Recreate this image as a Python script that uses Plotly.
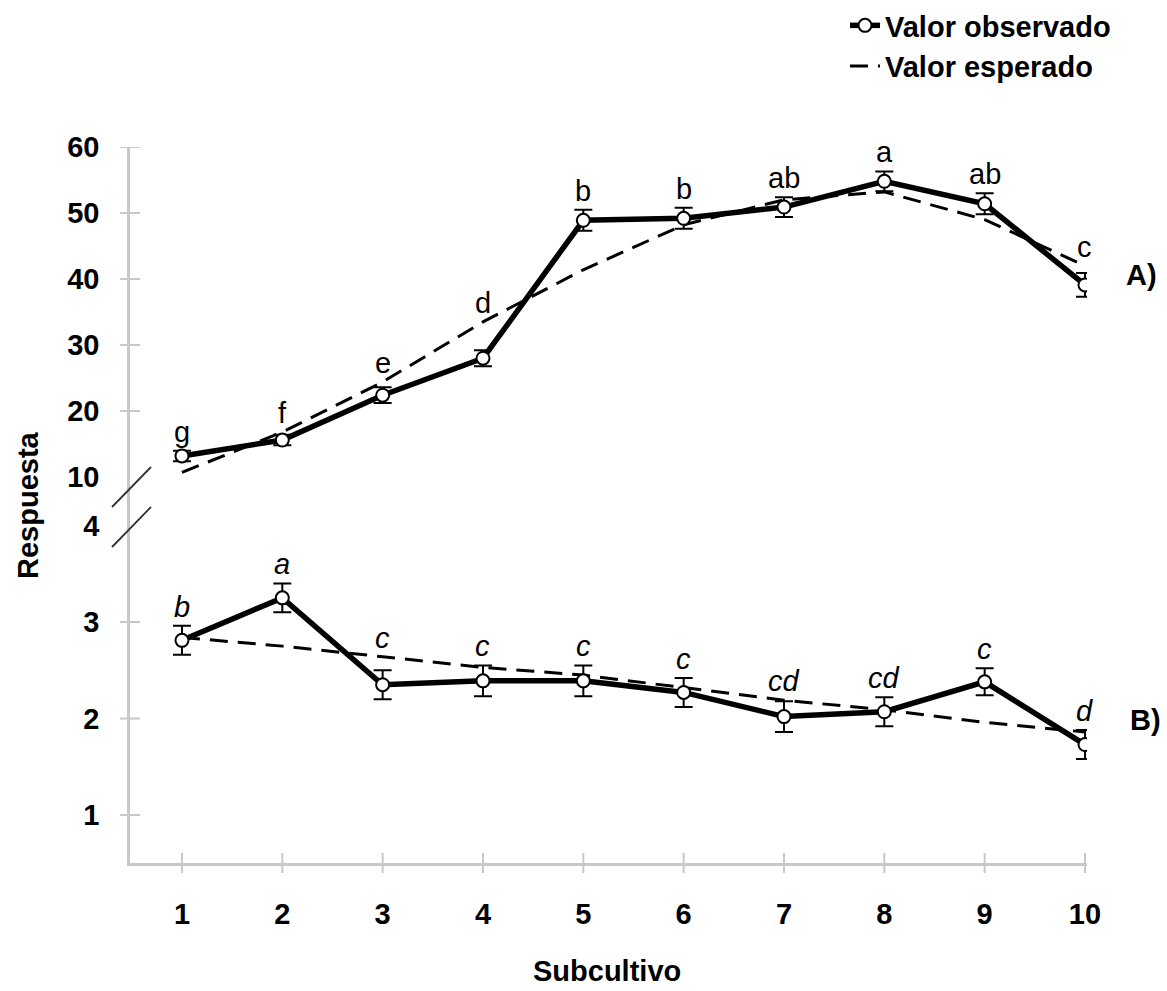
import plotly.graph_objects as go

# ---------------- data ----------------
subcultivo = [1, 2, 3, 4, 5, 6, 7, 8, 9, 10]

obs_A = [13.2, 15.6, 22.4, 28.0, 48.9, 49.2, 50.9, 54.8, 51.4, 39.1]
err_A = [0.8, 0.8, 1.2, 1.2, 1.6, 1.6, 1.5, 1.5, 1.6, 1.8]
exp_A = [10.7, 16.8, 24.4, 33.5, 41.4, 48.2, 52.0, 53.2, 49.0, 42.0]
let_A = ["g", "f", "e", "d", "b", "b", "ab", "a", "ab", "c"]

obs_B = [2.81, 3.25, 2.35, 2.39, 2.39, 2.27, 2.02, 2.07, 2.38, 1.73]
err_B = [0.15, 0.15, 0.15, 0.16, 0.16, 0.15, 0.16, 0.15, 0.14, 0.15]
exp_B = [2.84, 2.75, 2.64, 2.53, 2.45, 2.32, 2.19, 2.09, 1.96, 1.86]
let_B = ["b", "a", "c", "c", "c", "c", "cd", "cd", "c", "d"]

x_ticks = [1, 2, 3, 4, 5, 6, 7, 8, 9, 10]
yA_ticks = [10, 20, 30, 40, 50, 60]
yB_ticks = [1, 2, 3, 4]
break_A, break_B = 10, 4

# ---------------- layout geometry (pixels) ----------------
W, H = 1167, 991
def px_x(p): return p / W
def px_y(p): return 1 - p / H

AX_LEFT, AX_RIGHT = 130, 1087
AX_BOTTOM, AX_SPLIT, AX_TOP = 863, 500, 147
FONT = "Liberation Sans, Arial, sans-serif"
GRAY = "#c8c8c8"
DASH = "18px,10px"

fig = go.Figure()

# panel A
fig.add_trace(go.Scatter(x=subcultivo, y=exp_A, xaxis="x", yaxis="y2", mode="lines",
                         name="Valor esperado", legendrank=2,
                         line=dict(color="black", width=3, dash=DASH)))
fig.add_trace(go.Scatter(x=subcultivo, y=obs_A, xaxis="x", yaxis="y2", mode="lines+markers",
                         name="Valor observado", legendrank=1,
                         line=dict(color="black", width=5.5),
                         marker=dict(size=13, color="white", line=dict(color="black", width=2)),
                         error_y=dict(type="data", array=err_A, color="black", thickness=2, width=9)))
# panel B
fig.add_trace(go.Scatter(x=subcultivo, y=exp_B, xaxis="x", yaxis="y", mode="lines",
                         showlegend=False,
                         line=dict(color="black", width=3, dash=DASH)))
fig.add_trace(go.Scatter(x=subcultivo, y=obs_B, xaxis="x", yaxis="y", mode="lines+markers",
                         showlegend=False,
                         line=dict(color="black", width=5.5),
                         marker=dict(size=13, color="white", line=dict(color="black", width=2)),
                         error_y=dict(type="data", array=err_B, color="black", thickness=2, width=9)))

annotations = []
for xi, o, e, er, t in zip(subcultivo, obs_A, exp_A, err_A, let_A):
    annotations.append(dict(x=xi, y=max(o + er, e), xref="x", yref="y2", text=t,
                            showarrow=False, xanchor="center", yanchor="bottom", yshift=1,
                            font=dict(family=FONT, size=29, color="black")))
for xi, o, e, er, t in zip(subcultivo, obs_B, exp_B, err_B, let_B):
    annotations.append(dict(x=xi, y=max(o + er, e), xref="x", yref="y", text="<i>" + t + "</i>",
                            showarrow=False, xanchor="center", yanchor="bottom", yshift=1,
                            font=dict(family=FONT, size=29, color="black")))

bold = dict(family=FONT, size=29, color="black", weight="bold")
centered = dict(xref="paper", yref="paper", showarrow=False, xanchor="center", yanchor="middle",
                font=bold)
annotations += [
    dict(x=px_x(1141), y=px_y(275), text="<b>A)</b>", **centered),
    dict(x=px_x(1145), y=px_y(720), text="<b>B)</b>", **centered),
    dict(x=px_x(28), y=px_y(505), text="<b>Respuesta</b>", textangle=-90, **centered),
    dict(x=px_x(607), y=px_y(971), text="<b>Subcultivo</b>", **centered),
]

shapes = []
tl = 10
for t in x_ticks:
    shapes.append(dict(type="line", xref="x", yref="paper", x0=t, x1=t,
                       y0=px_y(AX_BOTTOM + tl), y1=px_y(AX_BOTTOM - tl),
                       line=dict(color=GRAY, width=2)))
for t in [v for v in yB_ticks if v != break_B]:
    shapes.append(dict(type="line", xref="paper", yref="y", x0=px_x(AX_LEFT - tl), x1=px_x(AX_LEFT + tl),
                       y0=t, y1=t, line=dict(color=GRAY, width=2)))
for t in [v for v in yA_ticks if v != break_A]:
    shapes.append(dict(type="line", xref="paper", yref="y2", x0=px_x(AX_LEFT - tl), x1=px_x(AX_LEFT + tl),
                       y0=t, y1=t, line=dict(color=GRAY, width=2)))
# axis break marks
for dy in (0, 40):
    shapes.append(dict(type="line", xref="paper", yref="paper",
                       x0=px_x(112), y0=px_y(507 + dy), x1=px_x(151), y1=px_y(467 + dy),
                       line=dict(color="#333333", width=1.8)))

axis_common = dict(showgrid=False, zeroline=False, showline=True, linecolor=GRAY, linewidth=2.5,
                   ticks="", tickfont=bold, automargin=False)

fig.update_layout(
    width=W, height=H,
    margin=dict(l=0, r=0, t=0, b=0, autoexpand=False),
    paper_bgcolor="white", plot_bgcolor="white",
    font=dict(family=FONT, color="black"),
    xaxis=dict(domain=[px_x(AX_LEFT), px_x(AX_RIGHT)], range=[0.482, 10.02], anchor="y",
               tickvals=x_ticks, ticklabelstandoff=23, **axis_common),
    yaxis=dict(domain=[px_y(AX_BOTTOM), px_y(AX_SPLIT)], range=[0.503, 4.264], anchor="x",
               tickvals=yB_ticks, ticklabelstandoff=22, **axis_common),
    yaxis2=dict(domain=[px_y(AX_SPLIT), px_y(AX_TOP)], range=[6.52, 60], anchor="x",
                tickvals=yA_ticks, ticklabelstandoff=22, **axis_common),
    legend=dict(x=px_x(845), y=px_y(0), xanchor="left", yanchor="top",
                font=dict(family=FONT, size=29, color="black", weight="bold"),
                bgcolor="rgba(0,0,0,0)", tracegroupgap=0),
    annotations=annotations,
    shapes=shapes,
)

fig.write_html("out.html", config={"displayModeBar": False},
               post_script="document.body.style.margin='0';document.body.style.overflow='hidden';")
